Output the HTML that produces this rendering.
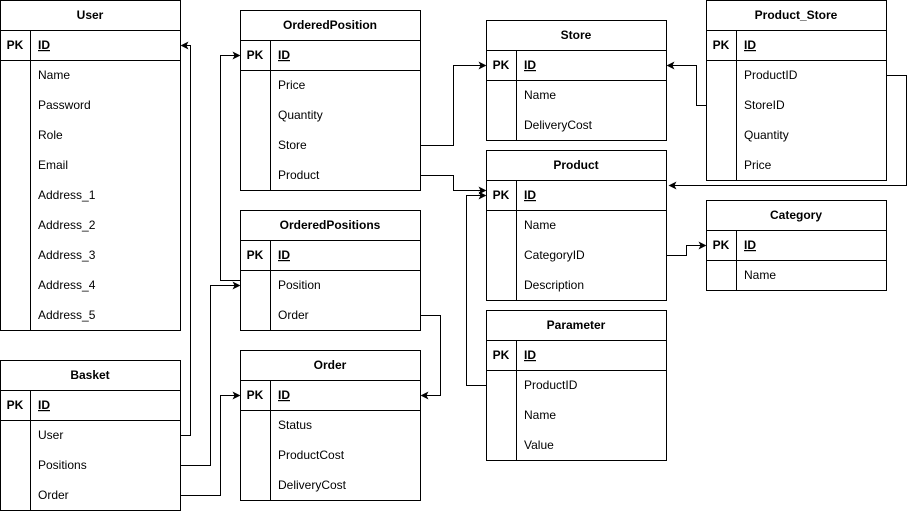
<!DOCTYPE html>
<html><head><meta charset="utf-8"><style>
html,body{margin:0;padding:0;background:#fff;}
svg{display:block;font-family:"Liberation Sans",Arial,sans-serif;font-size:12px;}
.b{font-weight:bold;}
</style></head><body>
<svg width="916" height="512" viewBox="0 0 916 512" xmlns="http://www.w3.org/2000/svg">
<defs><marker id="a" markerWidth="8" markerHeight="8" refX="7" refY="4" orient="auto" markerUnits="userSpaceOnUse"><path d="M0,0 L8,4 L0,8 L2,4 Z" fill="#000"/></marker></defs>
<g fill="none" stroke="#000" stroke-width="1">
<!-- User -->
<rect x="0.5" y="0.5" width="180" height="330"/><line x1="0.5" y1="30.5" x2="180.5" y2="30.5"/><line x1="0.5" y1="60.5" x2="180.5" y2="60.5"/><line x1="30.5" y1="30.5" x2="30.5" y2="330.5"/>
<!-- Basket -->
<rect x="0.5" y="360.5" width="180" height="150"/><line x1="0.5" y1="390.5" x2="180.5" y2="390.5"/><line x1="0.5" y1="420.5" x2="180.5" y2="420.5"/><line x1="30.5" y1="390.5" x2="30.5" y2="510.5"/>
<!-- OrderedPosition -->
<rect x="240.5" y="10.5" width="180" height="180"/><line x1="240.5" y1="40.5" x2="420.5" y2="40.5"/><line x1="240.5" y1="70.5" x2="420.5" y2="70.5"/><line x1="270.5" y1="40.5" x2="270.5" y2="190.5"/>
<!-- OrderedPositions -->
<rect x="240.5" y="210.5" width="180" height="120"/><line x1="240.5" y1="240.5" x2="420.5" y2="240.5"/><line x1="240.5" y1="270.5" x2="420.5" y2="270.5"/><line x1="270.5" y1="240.5" x2="270.5" y2="330.5"/>
<!-- Order -->
<rect x="240.5" y="350.5" width="180" height="150"/><line x1="240.5" y1="380.5" x2="420.5" y2="380.5"/><line x1="240.5" y1="410.5" x2="420.5" y2="410.5"/><line x1="270.5" y1="380.5" x2="270.5" y2="500.5"/>
<!-- Store -->
<rect x="486.5" y="20.5" width="180" height="120"/><line x1="486.5" y1="50.5" x2="666.5" y2="50.5"/><line x1="486.5" y1="80.5" x2="666.5" y2="80.5"/><line x1="516.5" y1="50.5" x2="516.5" y2="140.5"/>
<!-- Product -->
<rect x="486.5" y="150.5" width="180" height="150"/><line x1="486.5" y1="180.5" x2="666.5" y2="180.5"/><line x1="486.5" y1="210.5" x2="666.5" y2="210.5"/><line x1="516.5" y1="180.5" x2="516.5" y2="300.5"/>
<!-- Parameter -->
<rect x="486.5" y="310.5" width="180" height="150"/><line x1="486.5" y1="340.5" x2="666.5" y2="340.5"/><line x1="486.5" y1="370.5" x2="666.5" y2="370.5"/><line x1="516.5" y1="340.5" x2="516.5" y2="460.5"/>
<!-- Product_Store -->
<rect x="706.5" y="0.5" width="180" height="180"/><line x1="706.5" y1="30.5" x2="886.5" y2="30.5"/><line x1="706.5" y1="60.5" x2="886.5" y2="60.5"/><line x1="736.5" y1="30.5" x2="736.5" y2="180.5"/>
<!-- Category -->
<rect x="706.5" y="200.5" width="180" height="90"/><line x1="706.5" y1="230.5" x2="886.5" y2="230.5"/><line x1="706.5" y1="260.5" x2="886.5" y2="260.5"/><line x1="736.5" y1="230.5" x2="736.5" y2="290.5"/>
<!-- connectors -->
<polyline points="180.5,435.5 190.5,435.5 190.5,45.5 181.5,45.5" marker-end="url(#a)"/>
<polyline points="180.5,465.5 210.5,465.5 210.5,285.5 239.5,285.5" marker-end="url(#a)"/>
<polyline points="180.5,495.5 220.5,495.5 220.5,395.5 239.5,395.5" marker-end="url(#a)"/>
<polyline points="240.5,280.5 220.5,280.5 220.5,55.5 239.5,55.5" marker-end="url(#a)"/>
<polyline points="420.5,315.5 440.5,315.5 440.5,395.5 421.5,395.5" marker-end="url(#a)"/>
<polyline points="420.5,145.5 453.5,145.5 453.5,65.5 485.5,65.5" marker-end="url(#a)"/>
<polyline points="420.5,175.5 453.5,175.5 453.5,190.5 485.5,190.5" marker-end="url(#a)"/>
<polyline points="486.5,385.5 466.5,385.5 466.5,195.5 485.5,195.5" marker-end="url(#a)"/>
<polyline points="706.5,105.5 696.5,105.5 696.5,65.5 667.5,65.5" marker-end="url(#a)"/>
<polyline points="886.5,75.5 906.5,75.5 906.5,185.5 669.5,185.5" marker-end="url(#a)"/>
<polyline points="666.5,255.5 686.5,255.5 686.5,245.5 705.5,245.5" marker-end="url(#a)"/>
</g>
<g fill="#000">
<text class="b" x="90" y="19" text-anchor="middle">User</text>
<text class="b" x="15" y="49" text-anchor="middle">PK</text><text class="b" x="38" y="49" text-decoration="underline">ID</text>
<text x="38" y="79">Name</text><text x="38" y="109">Password</text><text x="38" y="139">Role</text><text x="38" y="169">Email</text><text x="38" y="199">Address_1</text><text x="38" y="229">Address_2</text><text x="38" y="259">Address_3</text><text x="38" y="289">Address_4</text><text x="38" y="319">Address_5</text>

<text class="b" x="90" y="379" text-anchor="middle">Basket</text>
<text class="b" x="15" y="409" text-anchor="middle">PK</text><text class="b" x="38" y="409" text-decoration="underline">ID</text>
<text x="38" y="439">User</text><text x="38" y="469">Positions</text><text x="38" y="499">Order</text>

<text class="b" x="330" y="29" text-anchor="middle">OrderedPosition</text>
<text class="b" x="255" y="59" text-anchor="middle">PK</text><text class="b" x="278" y="59" text-decoration="underline">ID</text>
<text x="278" y="89">Price</text><text x="278" y="119">Quantity</text><text x="278" y="149">Store</text><text x="278" y="179">Product</text>

<text class="b" x="330" y="229" text-anchor="middle">OrderedPositions</text>
<text class="b" x="255" y="259" text-anchor="middle">PK</text><text class="b" x="278" y="259" text-decoration="underline">ID</text>
<text x="278" y="289">Position</text><text x="278" y="319">Order</text>

<text class="b" x="330" y="369" text-anchor="middle">Order</text>
<text class="b" x="255" y="399" text-anchor="middle">PK</text><text class="b" x="278" y="399" text-decoration="underline">ID</text>
<text x="278" y="429">Status</text><text x="278" y="459">ProductCost</text><text x="278" y="489">DeliveryCost</text>

<text class="b" x="576" y="39" text-anchor="middle">Store</text>
<text class="b" x="501" y="69" text-anchor="middle">PK</text><text class="b" x="524" y="69" text-decoration="underline">ID</text>
<text x="524" y="99">Name</text><text x="524" y="129">DeliveryCost</text>

<text class="b" x="576" y="169" text-anchor="middle">Product</text>
<text class="b" x="501" y="199" text-anchor="middle">PK</text><text class="b" x="524" y="199" text-decoration="underline">ID</text>
<text x="524" y="229">Name</text><text x="524" y="259">CategoryID</text><text x="524" y="289">Description</text>

<text class="b" x="576" y="329" text-anchor="middle">Parameter</text>
<text class="b" x="501" y="359" text-anchor="middle">PK</text><text class="b" x="524" y="359" text-decoration="underline">ID</text>
<text x="524" y="389">ProductID</text><text x="524" y="419">Name</text><text x="524" y="449">Value</text>

<text class="b" x="796" y="19" text-anchor="middle">Product_Store</text>
<text class="b" x="721" y="49" text-anchor="middle">PK</text><text class="b" x="744" y="49" text-decoration="underline">ID</text>
<text x="744" y="79">ProductID</text><text x="744" y="109">StoreID</text><text x="744" y="139">Quantity</text><text x="744" y="169">Price</text>

<text class="b" x="796" y="219" text-anchor="middle">Category</text>
<text class="b" x="721" y="249" text-anchor="middle">PK</text><text class="b" x="744" y="249" text-decoration="underline">ID</text>
<text x="744" y="279">Name</text>
</g>
</svg>
</body></html>
